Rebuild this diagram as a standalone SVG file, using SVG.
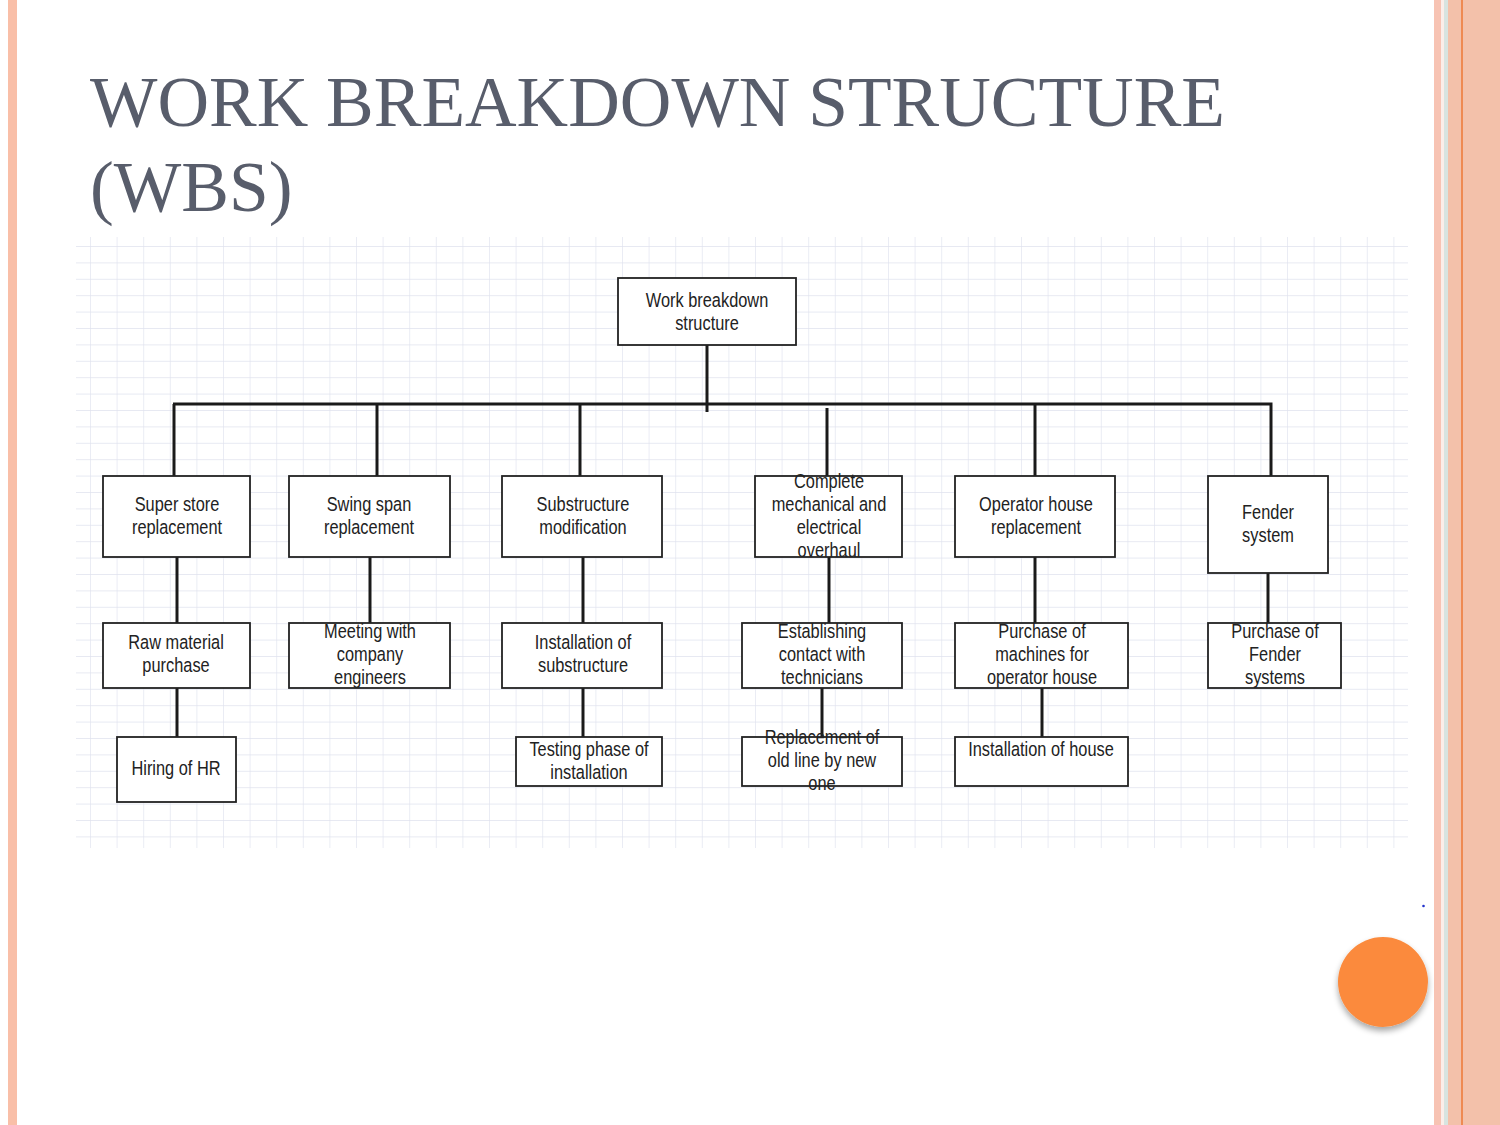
<svg xmlns="http://www.w3.org/2000/svg" width="1500" height="1125" viewBox="0 0 1500 1125">
<defs>
<pattern id="grid" x="90" y="246" width="26.6" height="16.4" patternUnits="userSpaceOnUse">
<path d="M0 0 V16.4 M0 0 H26.6" fill="none" stroke="#e0e2ee" stroke-width="1.3"/>
</pattern>
<filter id="sh" x="-30%" y="-30%" width="160%" height="160%">
<feGaussianBlur in="SourceAlpha" stdDeviation="3"/>
<feOffset dx="0" dy="4"/>
<feComponentTransfer><feFuncA type="linear" slope="0.35"/></feComponentTransfer>
<feMerge><feMergeNode/><feMergeNode in="SourceGraphic"/></feMerge>
</filter>
</defs>
<style>
.box{fill:#fff;stroke:#222;stroke-width:1.8}
.lbl{font-family:"Liberation Sans",Arial,sans-serif;font-size:19.5px;fill:#222;text-anchor:middle}
.con{stroke:#1a1a1a;stroke-width:3;fill:none}
.title{font-family:"Liberation Serif","Times New Roman",serif;font-size:71.5px;fill:#585d6b}
</style>
<rect width="1500" height="1125" fill="#fff"/>
<!-- side decorations -->
<rect x="8" y="0" width="9" height="1125" fill="#f9bfa8"/>
<rect x="1434" y="0" width="7" height="1125" fill="#f7c3b3"/>
<rect x="1441" y="0" width="3" height="1125" fill="#fbeee9"/>
<rect x="1444" y="0" width="4" height="1125" fill="#d8e4e0"/>
<rect x="1448" y="0" width="52" height="1125" fill="#f3c1aa"/>
<rect x="1461" y="0" width="2" height="1125" fill="#ef8a52"/>
<!-- title -->
<text class="title" x="90" y="126" textLength="1135" lengthAdjust="spacingAndGlyphs">WORK BREAKDOWN STRUCTURE</text>
<text class="title" x="90" y="211">(WBS)</text>
<!-- grid background -->
<rect x="76" y="237" width="1332" height="611" fill="url(#grid)"/>
<!-- connectors -->
<g id="connectors">
<path class="con" d="M173 404 H1271 V476"/>
<path class="con" d="M707 345 V412"/>
<path class="con" d="M174 404 V476"/>
<path class="con" d="M377 404 V476"/>
<path class="con" d="M580 404 V476"/>
<path class="con" d="M827 408 V476"/>
<path class="con" d="M1035 404 V476"/>
<path class="con" d="M177 557 V623"/>
<path class="con" d="M370 557 V623"/>
<path class="con" d="M583 557 V623"/>
<path class="con" d="M829 557 V623"/>
<path class="con" d="M1035 557 V623"/>
<path class="con" d="M1268 573 V623"/>
<path class="con" d="M177 688 V737"/>
<path class="con" d="M583 688 V737"/>
<path class="con" d="M822 688 V737"/>
<path class="con" d="M1042 688 V737"/>
</g>
<!-- nodes -->
<g id="root">
<rect class="box" x="618" y="278" width="178" height="67"/>
<g transform="translate(707 0) scale(0.84 1)"><text class="lbl" x="0" y="307">Work breakdown</text><text class="lbl" x="0" y="330">structure</text></g>
</g>
<g id="n-superstore">
<rect class="box" x="103" y="476" width="147" height="81"/>
<g transform="translate(177 0) scale(0.84 1)"><text class="lbl" x="0" y="511">Super store</text><text class="lbl" x="0" y="534">replacement</text></g>
</g>
<g id="n-swingspan">
<rect class="box" x="289" y="476" width="161" height="81"/>
<g transform="translate(369 0) scale(0.84 1)"><text class="lbl" x="0" y="511">Swing span</text><text class="lbl" x="0" y="534">replacement</text></g>
</g>
<g id="n-substructure">
<rect class="box" x="502" y="476" width="160" height="81"/>
<g transform="translate(583 0) scale(0.84 1)"><text class="lbl" x="0" y="511">Substructure</text><text class="lbl" x="0" y="534">modification</text></g>
</g>
<g id="n-overhaul">
<rect class="box" x="755" y="476" width="147" height="81"/>
<g transform="translate(829 0) scale(0.84 1)"><text class="lbl" x="0" y="488">Complete</text><text class="lbl" x="0" y="511">mechanical and</text><text class="lbl" x="0" y="534">electrical</text><text class="lbl" x="0" y="557">overhaul</text></g>
</g>
<g id="n-operator">
<rect class="box" x="955" y="476" width="160" height="81"/>
<g transform="translate(1036 0) scale(0.84 1)"><text class="lbl" x="0" y="511">Operator house</text><text class="lbl" x="0" y="534">replacement</text></g>
</g>
<g id="n-fender">
<rect class="box" x="1208" y="476" width="120" height="97"/>
<g transform="translate(1268 0) scale(0.84 1)"><text class="lbl" x="0" y="519">Fender</text><text class="lbl" x="0" y="542">system</text></g>
</g>
<g id="n-rawmaterial">
<rect class="box" x="103" y="623" width="147" height="65"/>
<g transform="translate(176 0) scale(0.84 1)"><text class="lbl" x="0" y="649">Raw material</text><text class="lbl" x="0" y="672">purchase</text></g>
</g>
<g id="n-meeting">
<rect class="box" x="289" y="623" width="161" height="65"/>
<g transform="translate(370 0) scale(0.84 1)"><text class="lbl" x="0" y="638">Meeting with</text><text class="lbl" x="0" y="661">company</text><text class="lbl" x="0" y="684">engineers</text></g>
</g>
<g id="n-installsub">
<rect class="box" x="502" y="623" width="160" height="65"/>
<g transform="translate(583 0) scale(0.84 1)"><text class="lbl" x="0" y="649">Installation of</text><text class="lbl" x="0" y="672">substructure</text></g>
</g>
<g id="n-establishing">
<rect class="box" x="742" y="623" width="160" height="65"/>
<g transform="translate(822 0) scale(0.84 1)"><text class="lbl" x="0" y="638">Establishing</text><text class="lbl" x="0" y="661">contact with</text><text class="lbl" x="0" y="684">technicians</text></g>
</g>
<g id="n-machines">
<rect class="box" x="955" y="623" width="173" height="65"/>
<g transform="translate(1042 0) scale(0.84 1)"><text class="lbl" x="0" y="638">Purchase of</text><text class="lbl" x="0" y="661">machines for</text><text class="lbl" x="0" y="684">operator house</text></g>
</g>
<g id="n-fenderpurchase">
<rect class="box" x="1208" y="623" width="133" height="65"/>
<g transform="translate(1275 0) scale(0.84 1)"><text class="lbl" x="0" y="638">Purchase of</text><text class="lbl" x="0" y="661">Fender</text><text class="lbl" x="0" y="684">systems</text></g>
</g>
<g id="n-hiring">
<rect class="box" x="117" y="737" width="119" height="65"/>
<g transform="translate(176 0) scale(0.84 1)"><text class="lbl" x="0" y="775">Hiring of HR</text></g>
</g>
<g id="n-testing">
<rect class="box" x="516" y="737" width="146" height="49"/>
<g transform="translate(589 0) scale(0.84 1)"><text class="lbl" x="0" y="756">Testing phase of</text><text class="lbl" x="0" y="779">installation</text></g>
</g>
<g id="n-replacement">
<rect class="box" x="742" y="737" width="160" height="49"/>
<g transform="translate(822 0) scale(0.84 1)"><text class="lbl" x="0" y="744">Replacement of</text><text class="lbl" x="0" y="767">old line by new</text><text class="lbl" x="0" y="790">one</text></g>
</g>
<g id="n-installhouse">
<rect class="box" x="955" y="737" width="173" height="49"/>
<g transform="translate(1041 0) scale(0.84 1)"><text class="lbl" x="0" y="756">Installation of house</text></g>
</g>
<!-- decorative circle and dot -->
<circle cx="1383" cy="982" r="45" fill="#fb8a3c" filter="url(#sh)"/>
<circle cx="1423.5" cy="906" r="1.3" fill="#2233cc"/>
</svg>
